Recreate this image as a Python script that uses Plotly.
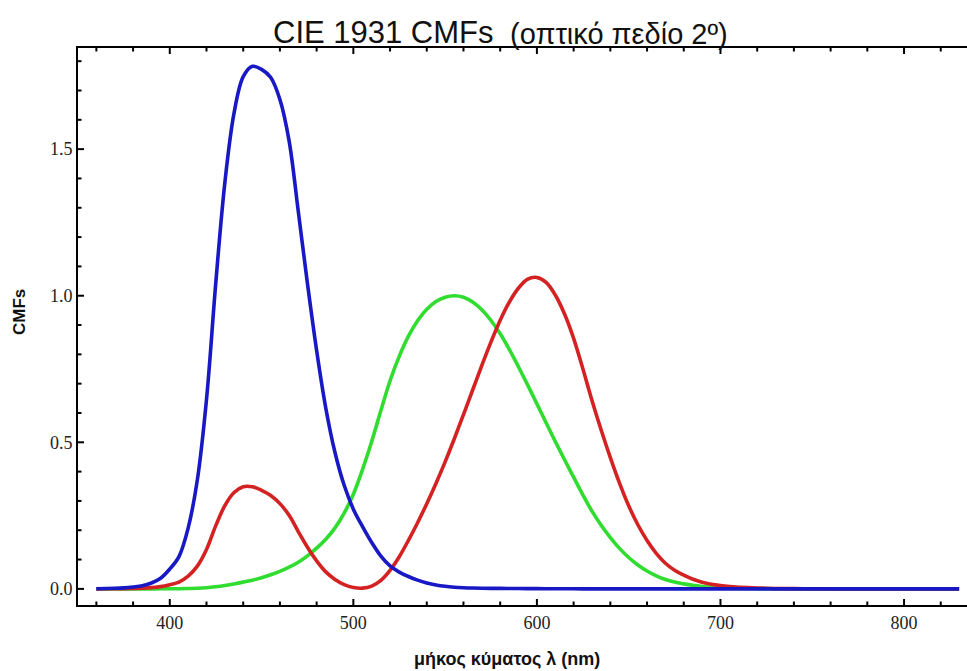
import plotly.graph_objects as go

# CIE 1931 2-degree colour matching functions, 5 nm steps
wavelength = list(range(360, 835, 5))
x_bar = [0.000130, 0.000232, 0.000415, 0.000742, 0.001368, 0.002236, 0.004243, 0.007650,
         0.014310, 0.023190, 0.043510, 0.077630, 0.134380, 0.214770, 0.283900, 0.328500,
         0.348280, 0.348060, 0.336200, 0.318700, 0.290800, 0.251100, 0.195360, 0.142100,
         0.095640, 0.057950, 0.032010, 0.014700, 0.004900, 0.002400, 0.009300, 0.029100,
         0.063270, 0.109600, 0.165500, 0.225750, 0.290400, 0.359700, 0.433450, 0.512050,
         0.594500, 0.678400, 0.762100, 0.842500, 0.916300, 0.978600, 1.026300, 1.056700,
         1.062200, 1.045600, 1.002600, 0.938400, 0.854450, 0.751400, 0.642400, 0.541900,
         0.447900, 0.360800, 0.283500, 0.218700, 0.164900, 0.121200, 0.087400, 0.063600,
         0.046770, 0.032900, 0.022700, 0.015840, 0.011359, 0.008111, 0.005790, 0.004109,
         0.002899, 0.002049, 0.001440, 0.001000, 0.000690, 0.000476, 0.000332, 0.000235,
         0.000166, 0.000117, 0.000083, 0.000059, 0.000042, 0.000030, 0.000021, 0.000015,
         0.0000105, 0.0000074, 0.0000052, 0.0000036, 0.0000025, 0.0000018, 0.0000013]
y_bar = [0.000004, 0.000007, 0.000012, 0.000022, 0.000039, 0.000064, 0.000120, 0.000217,
         0.000396, 0.000640, 0.001210, 0.002180, 0.004000, 0.007300, 0.011600, 0.016840,
         0.023000, 0.029800, 0.038000, 0.048000, 0.060000, 0.073900, 0.090980, 0.112600,
         0.139020, 0.169300, 0.208020, 0.258600, 0.323000, 0.407300, 0.503000, 0.608200,
         0.710000, 0.793200, 0.862000, 0.914850, 0.954000, 0.980300, 0.994950, 1.000000,
         0.995000, 0.978600, 0.952000, 0.915400, 0.870000, 0.816300, 0.757000, 0.694900,
         0.631000, 0.566800, 0.503000, 0.441200, 0.381000, 0.321000, 0.265000, 0.217000,
         0.175000, 0.138200, 0.107000, 0.081600, 0.061000, 0.044580, 0.032000, 0.023200,
         0.017000, 0.011920, 0.008210, 0.005723, 0.004102, 0.002929, 0.002091, 0.001484,
         0.001047, 0.000740, 0.000520, 0.000361, 0.000249, 0.000172, 0.000120, 0.000085,
         0.000060, 0.000042, 0.000030, 0.000021, 0.000015, 0.000011, 0.0000075, 0.0000053,
         0.0000038, 0.0000027, 0.0000019, 0.0000013, 0.0000009, 0.0000006, 0.0000005]
z_bar = [0.000606, 0.001086, 0.001946, 0.003486, 0.006450, 0.010550, 0.020050, 0.036210,
         0.067850, 0.110200, 0.207400, 0.371300, 0.645600, 1.039050, 1.385600, 1.622960,
         1.747060, 1.782600, 1.772110, 1.744100, 1.669200, 1.528100, 1.287640, 1.041900,
         0.812950, 0.616200, 0.465180, 0.353300, 0.272000, 0.212300, 0.158200, 0.111700,
         0.078250, 0.057250, 0.042160, 0.029840, 0.020300, 0.013400, 0.008750, 0.005750,
         0.003900, 0.002750, 0.002100, 0.001800, 0.001650, 0.001400, 0.001100, 0.001000,
         0.000800, 0.000600, 0.000340, 0.000240, 0.000190, 0.000100, 0.000050, 0.000030,
         0.000020, 0.000010] + [0.0] * 37

x_ticks = [400, 500, 600, 700, 800]
x_minor_ticks = [360, 380, 420, 440, 460, 480, 520, 540, 560, 580, 620, 640, 660, 680,
                 720, 740, 760, 780, 820]
y_ticks = [0.0, 0.5, 1.0, 1.5]
y_tick_labels = ["0.0", "0.5", "1.0", "1.5"]
y_minor_ticks = [0.1, 0.2, 0.3, 0.4, 0.6, 0.7, 0.8, 0.9, 1.1, 1.2, 1.3, 1.4, 1.6, 1.7, 1.8]

x_range = [350, 834.3]
y_range = [-0.055, 1.845]

W, H = 967, 671
ML, MR, MT, MB = 78, 0, 48, 66
PW, PH = W - ML - MR, H - MT - MB
MAJOR_LEN, MINOR_LEN = 6, 3.5

fig = go.Figure()
fig.add_trace(go.Scatter(x=wavelength, y=y_bar, mode="lines", line=dict(color="#2fdc2f", width=3.6),
                         line_shape="spline", name="ȳ"))
fig.add_trace(go.Scatter(x=wavelength, y=x_bar, mode="lines", line=dict(color="#d42222", width=3.6),
                         line_shape="spline", name="x̄"))
fig.add_trace(go.Scatter(x=wavelength, y=z_bar, mode="lines", line=dict(color="#1818c4", width=3.6),
                         line_shape="spline", name="z̄"))

# inward tick marks on bottom, top and left frame, placed through the axis scales
tick_shapes = []
tick_line = dict(color="black", width=2)
for vals, ln in ((x_ticks, MAJOR_LEN), (x_minor_ticks, MINOR_LEN)):
    for v in vals:
        tick_shapes.append(dict(type="line", xref="x", yref="paper", x0=v, x1=v,
                                y0=0, y1=ln / PH, line=tick_line, layer="above"))
        tick_shapes.append(dict(type="line", xref="x", yref="paper", x0=v, x1=v,
                                y0=1, y1=1 - ln / PH, line=tick_line, layer="above"))
for vals, ln in ((y_ticks, MAJOR_LEN), (y_minor_ticks, MINOR_LEN)):
    for v in vals:
        tick_shapes.append(dict(type="line", xref="paper", yref="y", x0=0, x1=ln / PW,
                                y0=v, y1=v, line=tick_line, layer="above"))

fig.update_layout(
    width=W, height=H,
    margin=dict(l=ML, r=MR, t=MT, b=MB),
    paper_bgcolor="white", plot_bgcolor="white",
    font=dict(family="Liberation Serif, Times New Roman, serif", size=18, color="#222"),
    showlegend=False,
    xaxis=dict(range=x_range, tickvals=x_ticks, ticks="", showline=True, linecolor="black",
               linewidth=2, mirror=True, showgrid=False, zeroline=False),
    yaxis=dict(range=y_range, tickvals=y_ticks, ticktext=y_tick_labels, ticks="",
               showline=True, linecolor="black", linewidth=2, mirror=False, showgrid=False,
               zeroline=False),
    shapes=tick_shapes,
    annotations=[
        dict(text="CIE 1931 CMFs", xref="paper", yref="paper", x=(496 - ML) / PW,
             y=1 + (MT - 32) / PH, xanchor="right", yanchor="middle", showarrow=False,
             font=dict(family="Liberation Sans, Arial, sans-serif", size=31, color="#111")),
        dict(text="(οπτικό πεδίο 2º)", xref="paper", yref="paper", x=(508 - ML) / PW,
             y=1 + (MT - 34) / PH, xanchor="left", yanchor="middle", showarrow=False,
             font=dict(family="Liberation Sans, Arial, sans-serif", size=29, color="#111")),
        dict(text="<b>μήκος κύματος λ (nm)</b>", xref="paper", yref="paper",
             x=(507 - ML) / PW, y=-(659 - (H - MB)) / PH, xanchor="center", yanchor="middle",
             showarrow=False,
             font=dict(family="Liberation Sans, Arial, sans-serif", size=18, color="#111")),
        dict(text="<b>CMFs</b>", xref="paper", yref="paper", x=(19 - ML) / PW,
             y=((H - MB) - 312) / PH, xanchor="center", yanchor="middle", textangle=-90,
             showarrow=False,
             font=dict(family="Liberation Sans, Arial, sans-serif", size=17, color="#111")),
    ],
)

fig.write_html("out.html")
